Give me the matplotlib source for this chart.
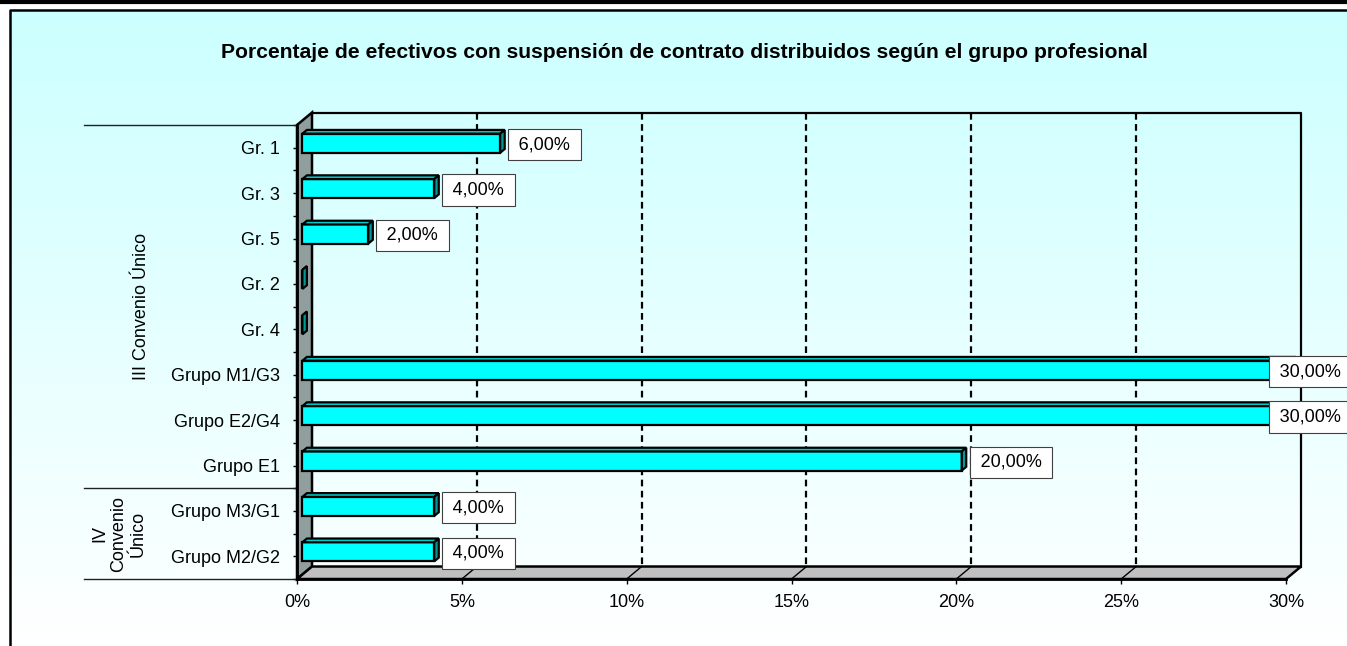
import numpy as np
import matplotlib
matplotlib.use("Agg")
import matplotlib.pyplot as plt
from matplotlib.patches import Polygon
from matplotlib.colors import LinearSegmentedColormap
import matplotlib.transforms as mtransforms

plt.rcParams['font.family'] = ['Liberation Sans', 'DejaVu Sans']

title = "Porcentaje de efectivos con suspensión de contrato distribuidos según el grupo profesional"
categories = ['Gr. 1', 'Gr. 3', 'Gr. 5', 'Gr. 2', 'Gr. 4',
              'Grupo M1/G3', 'Grupo E2/G4', 'Grupo E1',
              'Grupo M3/G1', 'Grupo M2/G2']
values = [6, 4, 2, 0, 0, 30, 30, 20, 4, 4]
groups = ['III Convenio Único', 'IV\nConvenio\nÚnico']
group_sizes = [8, 2]
xticks = [0, 5, 10, 15, 20, 25, 30]

W, H = 1347, 646
fig = plt.figure(figsize=(W / 100, H / 100), dpi=100)

# background: gradient chart area + frames
bg = fig.add_axes([0, 0, 1, 1])
bg.axis('off')
cmap = LinearSegmentedColormap.from_list('bg', ['#CCFFFF', '#FFFFFF'])
bg.imshow(np.linspace(0, 1, 256)[:, None], cmap=cmap, aspect='auto',
          interpolation='bilinear', extent=(10, W, H, 10), zorder=0)
bg.plot([9.5, 9.5, W], [H, 10, 10], color='k', lw=1.8, zorder=1)
bg.plot([0, W], [1.5, 1.5], color='k', lw=3, zorder=1)
bg.set_xlim(0, W)
bg.set_ylim(H, 0)

fig.text(684.5 / W, 1 - 57.5 / H, title, ha='center', va='baseline',
         fontsize=15.2, fontweight='bold')

# front plane of the 3D box
ax = fig.add_axes([297 / W, 1 - 579 / H, (1286 - 297) / W, (579 - 125) / H])
ax.set_facecolor('none')
n = len(categories)
ax.set_xlim(0, 30)
ax.set_ylim(n - 0.5, -0.5)

DX, DY = 0.455, -0.275      # full depth of the box in data units
F0, FB = 0.36, 0.30         # bar front depth and bar thickness (fraction)
BH = 0.42                   # bar height
ytop, ybot = -0.5, n - 0.5

# walls
ax.add_patch(Polygon([(0, ytop), (0, ybot), (DX, ybot + DY), (DX, ytop + DY)],
                     closed=True, fc='#909E9E', ec='k', lw=1.8, zorder=1, clip_on=False))
ax.add_patch(Polygon([(0, ybot), (30, ybot), (30 + DX, ybot + DY), (DX, ybot + DY)],
                     closed=True, fc='#C0C0C0', ec='k', lw=1.8, zorder=1, clip_on=False))
ax.plot([DX, 30 + DX, 30 + DX], [ytop + DY, ytop + DY, ybot + DY],
        color='k', lw=1.6, zorder=1, clip_on=False)
for t in xticks[1:-1]:
    ax.plot([t + DX, t + DX], [ytop + DY, ybot + DY], color='k', lw=1.6,
            ls=(0, (3, 2)), zorder=1, clip_on=False)
    ax.plot([t, t + DX], [ybot, ybot + DY], color='k', lw=1, zorder=1.5, clip_on=False)

# bars
dx, dy = FB * DX, FB * DY
for i, v in enumerate(values):
    yc = i + F0 * DY
    x0 = F0 * DX
    x1 = x0 + v
    yt, yb = yc - BH / 2, yc + BH / 2
    ax.barh(yc, v, left=x0, height=BH, color='#00FFFF', edgecolor='k',
            lw=1.6, zorder=3, clip_on=False)
    ax.add_patch(Polygon([(x0, yt), (x1, yt), (x1 + dx, yt + dy), (x0 + dx, yt + dy)],
                         closed=True, fc='#00CCCC', ec='k', lw=1.6, zorder=3, clip_on=False))
    ax.add_patch(Polygon([(x1, yt), (x1, yb), (x1 + dx, yb + dy), (x1 + dx, yt + dy)],
                         closed=True, fc='#009999', ec='k', lw=1.6, zorder=3, clip_on=False))
    if v > 0:
        lx = min(x1 + 0.455, 29.69)   # keep the label inside the picture
        lab = '\u2009' + f"{v:.2f}".replace('.', ',') + '%\u2009'
        ax.text(lx, yc + 0.03, lab, ha='left', va='center', fontsize=13, zorder=5,
                bbox=dict(boxstyle='square,pad=0.39', fc='white', ec='#404040', lw=0.8))

# axes
for s in ['top', 'right']:
    ax.spines[s].set_visible(False)
for s in ['left', 'bottom']:
    ax.spines[s].set_linewidth(2)
    ax.spines[s].set_zorder(4)
ax.set_xticks(xticks)
ax.set_xticklabels([f'{t}%' for t in xticks])
ax.set_yticks(range(n))
ax.set_yticklabels(categories)
ax.set_yticks(np.arange(-0.5, n, 1), minor=True)
ax.tick_params(axis='x', length=3.6, width=1, pad=7, labelsize=13)
ax.tick_params(axis='y', which='both', length=2.9, width=1, pad=9.4, labelsize=13)

# group labels on the category axis
trans = mtransforms.blended_transform_factory(ax.transAxes, ax.transData)
bounds = np.concatenate([[0], np.cumsum(group_sizes)]) - 0.5
for b in bounds:
    ax.plot([-0.2154, 0], [b, b], color='#202020', lw=1, transform=trans, clip_on=False)
gx = [-0.1577, -0.18]
for g, (name, b0, b1) in enumerate(zip(groups, bounds[:-1], bounds[1:])):
    ax.text(gx[g], (b0 + b1) / 2, name, transform=trans, rotation=90,
            ha='center', va='center', multialignment='center', fontsize=13,
            linespacing=1.2)

fig.savefig('out.png', dpi=100)
